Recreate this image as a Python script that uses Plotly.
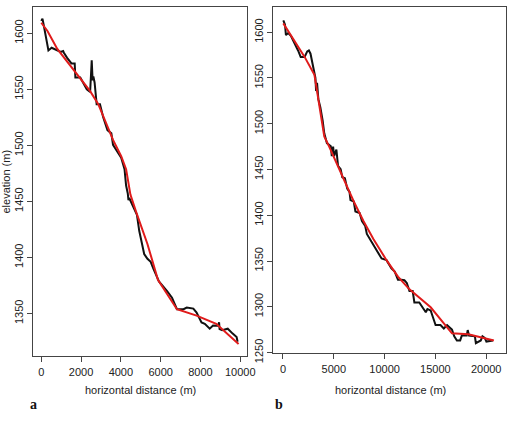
import plotly.graph_objects as go

# Panel a: observed profile (black) and fitted profile (red)
a_obs_x = [0, 60, 115, 230, 360, 520, 805, 973, 1100, 1136, 1300, 1433, 1516, 1680, 1714, 1961, 2125, 2287, 2455,
           2535, 2580, 2618, 2680, 2750, 2783, 2950, 3112, 3325, 3522, 3606, 3770, 4016, 4184, 4263, 4347, 4381,
           4420, 4594, 4807, 4925, 5039, 5172, 5335, 5498, 5632, 5913, 6323, 6570, 6817, 7148, 7311, 7642, 7805,
           8052, 8217, 8464, 8630, 8877, 8935, 8960, 9090, 9371, 9618, 9816, 9865]
a_obs_y = [1611, 1613, 1608, 1597.6, 1584.6, 1587, 1584.6, 1583.2, 1584, 1582.6, 1578, 1574.5, 1573, 1573, 1560.5,
           1560.5, 1555.6, 1549.8, 1547.5, 1575.9, 1558, 1561.4, 1556, 1545.4, 1536.7, 1536.7, 1525, 1513.5,
           1510.6, 1500.4, 1496, 1488.8, 1478.7, 1464.1, 1457, 1451, 1453, 1446.7, 1438, 1423.5, 1414.7, 1403,
           1398.8, 1396, 1390, 1378.5, 1369.8, 1364, 1353.8, 1353.8, 1355.3, 1354.3, 1350.8, 1342, 1340.7,
           1336.4, 1339.2, 1339, 1342, 1336, 1335, 1336.4, 1332, 1329, 1324.8]
a_fit_x = [0, 311, 805, 1714, 2455, 2865, 3196, 3606, 4016, 4263, 4480, 4757, 5335, 5863, 6817, 7805, 8793, 9915]
a_fit_y = [1609.3, 1602, 1586, 1565.8, 1548.3, 1536.7, 1522, 1504.8, 1490.2, 1478.7, 1456, 1441, 1412, 1380,
           1353.8, 1348, 1340.7, 1322.7]

# Panel b
b_obs_x = [30, 120, 193, 290, 515, 774, 1096, 1483, 1741, 2127, 2385, 2546, 2708, 3030, 3191, 3256, 3352, 3481,
           3675, 3901, 4062, 4320, 4707, 4804, 4933, 5030, 5255, 5417, 5675, 5836, 6095, 6320, 6546, 6642, 6965,
           7127, 7543, 7769, 8092, 8253, 8736, 9059, 9380, 9702, 10186, 10669, 10995, 11316, 11637, 11950,
           12184, 12446, 12765, 12930, 13413, 13731, 14055, 14215, 14535, 14700, 15018, 15500, 15828, 16150,
           16300, 16632, 16855, 17116, 17436, 17600, 18083, 18180, 18310, 18887, 18983, 19215, 19470, 19632,
           19855, 20020, 20337, 20660]
b_obs_y = [1613, 1611, 1608.5, 1596.8, 1599, 1596, 1589, 1580, 1573, 1573, 1579, 1580, 1576.5, 1558.7, 1550,
           1535.7, 1544.6, 1526.8, 1518, 1503.7, 1489.5, 1478.8, 1475.3, 1464.6, 1475, 1464.6, 1471.8, 1454,
           1450.4, 1441.5, 1440.4, 1429, 1425.5, 1416.6, 1415, 1404.2, 1402.5, 1393.5, 1388.2, 1379.5, 1370.5,
           1363.3, 1358, 1352.7, 1350.9, 1342, 1338.5, 1329.6, 1329.6, 1329, 1326, 1317.2, 1317.2, 1304.7,
           1304.7, 1299.4, 1294, 1297.6, 1295.9, 1290.5, 1280, 1280, 1276.3, 1280, 1278.5, 1275, 1267.8, 1263.2,
           1263.2, 1268.5, 1268.5, 1274.5, 1268.5, 1267.8, 1260.3, 1262, 1263.2, 1267.8, 1266, 1262, 1262.8,
           1263.2]
b_fit_x = [30, 838, 2127, 3094, 3256, 3578, 4062, 4545, 6546, 6965, 7930, 8896, 10186, 11316, 12446, 14535,
           16632, 18245, 20757]
b_fit_y = [1609.6, 1596, 1573, 1553.4, 1542.8, 1518, 1486, 1475, 1423.8, 1415, 1393.5, 1374, 1350.9, 1333,
           1319, 1299.4, 1271, 1270, 1263.2]

a_xticks = [0, 2000, 4000, 6000, 8000, 10000]
a_yticks = [1350, 1400, 1450, 1500, 1550, 1600]
b_xticks = [0, 5000, 10000, 15000, 20000]
b_yticks = [1250, 1300, 1350, 1400, 1450, 1500, 1550, 1600]

W, H = 518, 423
BLACK = "#111111"
RED = "#e01b1b"
FONT = "Liberation Sans, Arial, Helvetica, sans-serif"

fig = go.Figure()
fig.add_trace(go.Scatter(x=a_obs_x, y=a_obs_y, mode="lines", line=dict(color=BLACK, width=2),
                         xaxis="x", yaxis="y", showlegend=False))
fig.add_trace(go.Scatter(x=a_fit_x, y=a_fit_y, mode="lines", line=dict(color=RED, width=2),
                         xaxis="x", yaxis="y", showlegend=False))
fig.add_trace(go.Scatter(x=b_obs_x, y=b_obs_y, mode="lines", line=dict(color=BLACK, width=2),
                         xaxis="x2", yaxis="y2", showlegend=False))
fig.add_trace(go.Scatter(x=b_fit_x, y=b_fit_y, mode="lines", line=dict(color=RED, width=2),
                         xaxis="x2", yaxis="y2", showlegend=False))

def px(x):
    return x / W

def py(y):
    return 1 - y / H

axcommon = dict(showgrid=False, zeroline=False, showline=True, mirror=True, linecolor="#444444",
                linewidth=1, ticks="outside", ticklen=5, tickcolor="#444444",
                tickfont=dict(family=FONT, size=11, color="#222222"), tickmode="array")

fig.update_layout(
    width=W, height=H, margin=dict(l=0, r=0, t=0, b=0),
    paper_bgcolor="white", plot_bgcolor="white",
    xaxis=dict(domain=[px(34), px(251)], range=[-395, 10320], anchor="y",
               tickvals=a_xticks, ticktext=[str(v) for v in a_xticks], **axcommon),
    yaxis=dict(domain=[py(365), py(7)], range=[1311.7, 1623.5], anchor="x", tickangle=-90,
               tickvals=a_yticks, ticktext=[str(v) for v in a_yticks], **axcommon),
    xaxis2=dict(domain=[px(278), px(515)], range=[-967, 21954], anchor="y2",
                tickvals=b_xticks, ticktext=[str(v) for v in b_xticks], **axcommon),
    yaxis2=dict(domain=[py(362), py(7)], range=[1249, 1627.7], anchor="x2", tickangle=-90,
                tickvals=b_yticks, ticktext=[str(v) for v in b_yticks], **axcommon),
)

ann = [
    dict(text="horizontal distance (m)", x=px(143), y=py(399), xref="paper", yref="paper",
         showarrow=False, font=dict(family=FONT, size=11, color="#222222"), xanchor="center", yanchor="middle"),
    dict(text="horizontal distance (m)", x=px(397), y=py(399), xref="paper", yref="paper",
         showarrow=False, font=dict(family=FONT, size=11, color="#222222"), xanchor="center", yanchor="middle"),
    dict(text="elevation (m)", x=px(6), y=py(186), xref="paper", yref="paper", textangle=-90,
         showarrow=False, font=dict(family=FONT, size=11, color="#222222"), xanchor="center", yanchor="middle"),
    dict(text="<b>a</b>", x=px(34), y=py(414), xref="paper", yref="paper",
         showarrow=False, font=dict(family="Liberation Serif, Times New Roman, serif", size=14, color="#111111"),
         xanchor="center", yanchor="middle"),
    dict(text="<b>b</b>", x=px(284), y=py(414), xref="paper", yref="paper",
         showarrow=False, font=dict(family="Liberation Serif, Times New Roman, serif", size=14, color="#111111"),
         xanchor="center", yanchor="middle"),
]
fig.update_layout(annotations=ann)

fig.write_html("out.html")
